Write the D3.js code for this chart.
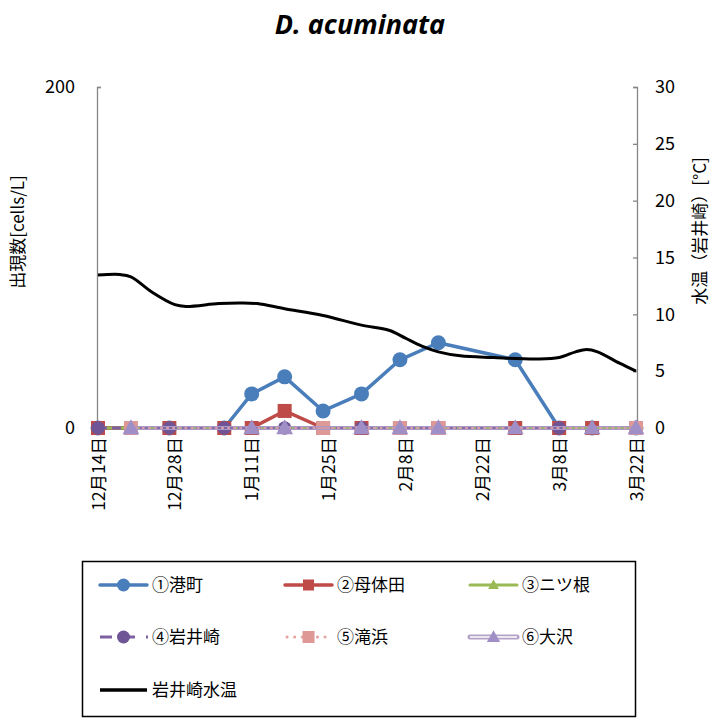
<!DOCTYPE html>
<html><head><meta charset="utf-8">
<script src="https://cdn.jsdelivr.net/npm/d3@7/dist/d3.min.js"></script>
<style>
body{margin:0;background:#fff;}
text{font-family:"Noto Sans CJK JP","Noto Sans",sans-serif;fill:#000;}
</style></head>
<body><svg id="c" width="715" height="724"></svg>
<script>
// ---- data ----
const title = "D. acuminata";
const sampleDates = ["2012-12-14","2012-12-20","2012-12-27","2013-01-06","2013-01-11","2013-01-17","2013-01-24","2013-01-31","2013-02-07","2013-02-14","2013-02-28","2013-03-08","2013-03-14","2013-03-22"];
const seriesNames = ["①港町","②母体田","③ニツ根","④岩井崎","⑤滝浜","⑥大沢"];
const s1 = [0,null,0,0,20,30,10,20,40,50,40,0,0,0];
const s2 = [0,null,0,0,0,10,0,0,0,0,0,0,0,0];
const s3 = [0,null,0,0,0,0,0,0,0,0,0,0,0,0];
const s4 = [0,null,0,0,null,0,null,0,null,null,null,0,null,null];
const s5 = [null,0,null,null,null,null,0,null,0,0,null,null,null,0];
const s6 = [null,0,null,null,0,0,null,0,0,0,0,null,0,0];
const tempName = "岩井崎水温";
const tempDates = ["2012-12-14","2012-12-18","2012-12-20","2012-12-24","2012-12-28","2012-12-30","2013-01-05","2013-01-09","2013-01-12","2013-01-17","2013-01-24","2013-01-31","2013-02-05","2013-02-08","2013-02-11","2013-02-14","2013-02-18","2013-02-24","2013-03-04","2013-03-08","2013-03-11","2013-03-13","2013-03-15","2013-03-19","2013-03-22"];
const tempValues = [13.45,13.5,13.3,11.9,10.85,10.7,10.95,11.0,10.95,10.5,9.9,9.05,8.6,7.9,7.2,6.7,6.35,6.2,6.07,6.2,6.7,6.9,6.7,5.7,5.0];
const xTicks = ["2012-12-14","2012-12-28","2013-01-11","2013-01-25","2013-02-08","2013-02-22","2013-03-08","2013-03-22"];
const leftTicks = [0,200];
const rightTicks = [0,5,10,15,20,25,30];
const leftTitle = "出現数[cells/L]";
const rightTitle = "水温（岩井崎）[°C]";

// ---- setup ----
const parse = d3.timeParse("%Y-%m-%d");
const svg = d3.select("#c");
const L = 97, R = 636, T = 87, B = 428;
const x = d3.scaleTime().domain([parse("2012-12-14"), parse("2013-03-22")]).range([L+1, R]);
const y = d3.scaleLinear().domain([0,200]).range([B,T]);
const y2 = d3.scaleLinear().domain([0,30]).range([B,T]);
const axisCol = "#868686";

// title
svg.append("text").attr("x",360).attr("y",34).attr("text-anchor","middle")
  .style("font-family","'Open Sans',sans-serif").style("font-weight","bold").style("font-style","italic")
  .style("font-size","27px").text(title);

// left axis
const gL = svg.append("g").attr("transform",`translate(${L},0)`)
  .call(d3.axisLeft(y).tickValues(leftTicks).tickSize(-4).tickPadding(22));
gL.select(".domain").attr("stroke",axisCol).attr("stroke-width",1.3);
gL.selectAll(".tick line").attr("stroke",axisCol).attr("stroke-width",1.3);
gL.selectAll("text").style("font-size","18px").style("font-family","'Noto Sans CJK JP',sans-serif");

// right axis
const gR = svg.append("g").attr("transform",`translate(${R+1},0)`)
  .call(d3.axisRight(y2).tickValues(rightTicks).tickSize(-4).tickPadding(18));
gR.select(".domain").attr("stroke",axisCol).attr("stroke-width",1.3);
gR.selectAll(".tick line").attr("stroke",axisCol).attr("stroke-width",1.3);
gR.selectAll("text").style("font-size","18px").style("font-family","'Noto Sans CJK JP',sans-serif");

// bottom axis
const fmt = d => (d.getMonth()+1)+"月"+d.getDate()+"日";
const gB = svg.append("g").attr("transform",`translate(0,${B})`)
  .call(d3.axisBottom(x).tickValues(xTicks.map(parse)).tickFormat(fmt).tickSize(0).tickPadding(0));
gB.select(".domain").attr("stroke",axisCol).attr("stroke-width",1.3);
gB.selectAll("text").style("font-size","17.5px")
  .attr("transform","translate(0,9) rotate(-90)").attr("text-anchor","end")
  .attr("x",0).attr("y",0).attr("dy","0.35em");

// axis titles
svg.append("text").attr("transform","translate(18,232) rotate(-90)").attr("text-anchor","middle")
  .attr("dy","0.35em").style("font-size","17px").text(leftTitle);
svg.append("text").attr("transform","translate(700,231) rotate(-90)").attr("text-anchor","middle")
  .attr("dy","0.35em").style("font-size","17px").text(rightTitle);

// series styles
const styles = [
  {color:"#4A7EBB", width:3.5, dash:null, cap:"round", marker:"circle", size:7.5, mcolor:"#4A7EBB"},
  {color:"#BE4B48", width:3.5, dash:null, cap:"round", marker:"square", size:14, mcolor:"#BE4B48"},
  {color:"#98B954", width:3, dash:null, cap:"round", marker:"triangle", size:9, mcolor:"#98B954"},
  {color:"#7D60A0", width:3, dash:"9,5", cap:"butt", marker:"circle", size:6.8, mcolor:"#6F5496"},
  {color:"#E6A2A0", width:3, dash:"0.1,6", cap:"round", marker:"square", size:14, mcolor:"#DE9896"},
  {color:"#A999C8", width:3, dash:null, cap:"round", marker:"triangle", size:14, mcolor:"#9F8FC6", double:true}
];
const seriesVals = [s1,s2,s3,s4,s5,s6];
const dts = sampleDates.map(parse);

function drawMarker(g, st, cx, cy){
  if(st.marker==="circle"){
    g.append("circle").attr("cx",cx).attr("cy",cy).attr("r",st.size).attr("fill",st.mcolor);
  } else if(st.marker==="square"){
    const s = st.size;
    g.append("rect").attr("x",cx-s/2).attr("y",cy-s/2).attr("width",s).attr("height",s).attr("fill",st.mcolor);
  } else {
    const s = st.size;
    g.append("path").attr("d",`M${cx},${cy-s*0.62}L${cx+s*0.6},${cy+s*0.45}L${cx-s*0.6},${cy+s*0.45}Z`).attr("fill",st.mcolor);
  }
}
function drawLine(g, st, pts, legend){
  const line = d3.line().x(d=>d[0]).y(d=>d[1]);
  if(st.double && !legend){
    // hollow compound line: two thin strokes, centre left open
    [-1.4, 1.4].forEach(off=>{
      g.append("path").attr("d",line(pts.map(p=>[p[0],p[1]+off]))).attr("fill","none")
        .attr("stroke",st.color).attr("stroke-width",1.1);
    });
    return;
  }
  const w = st.double ? 5 : st.width;
  const p = g.append("path").attr("d",line(pts)).attr("fill","none").attr("stroke",st.color)
    .attr("stroke-width", w).attr("stroke-linecap",st.cap).attr("stroke-linejoin","round");
  if(st.dash) p.attr("stroke-dasharray",st.dash);
  if(st.double){
    g.append("path").attr("d",line(pts)).attr("fill","none").attr("stroke","#fff").attr("stroke-width",1.6);
  }
}

const plot = svg.append("g");
seriesVals.forEach((vals,i)=>{
  const st = styles[i];
  const pts = [];
  vals.forEach((v,j)=>{ if(v!==null) pts.push([x(dts[j]), y(v)]); });
  const g = plot.append("g");
  drawLine(g, st, pts, false);
  pts.forEach(p=>drawMarker(g, st, p[0], p[1]));
});

// temperature
const tline = d3.line().x(d=>x(d[0])).y(d=>y2(d[1])).curve(d3.curveCatmullRom.alpha(0.5));
plot.append("path").attr("d", tline(tempDates.map((d,i)=>[parse(d), tempValues[i]])))
  .attr("fill","none").attr("stroke","#000").attr("stroke-width",3);

// legend
const lg = svg.append("g");
lg.append("rect").attr("x",82.5).attr("y",561.5).attr("width",553).attr("height",155)
  .attr("fill","#fff").attr("stroke","#000").attr("stroke-width",1.5);
const colX = [100, 285, 470];
const rowY = [585, 637, 690];
seriesNames.forEach((n,i)=>{
  const cx = colX[i%3], cy = rowY[Math.floor(i/3)];
  const st = styles[i];
  const g = lg.append("g");
  const lstyle = Object.assign({}, st);
  if(i===3) lstyle.dash = "12,11";
  if(i===4) lstyle.dash = "0.1,7.5";
  if(i===5) lstyle.color = "#B3A2C7";
  drawLine(g, lstyle, i===3 ? [[100,cy],[148,cy]] : i===4 ? [[cx+2,cy],[cx+47,cy]] : [[cx,cy],[cx+47,cy]], true);
  const ms = Object.assign({}, st);
  if(i===0) ms.size = 6.5;
  if(i===1) ms.size = 11;
  if(i===2) ms.size = 9;
  if(i===3) ms.size = 6.5;
  if(i===4) ms.size = 12;
  if(i===5) ms.size = 11;
  drawMarker(g, ms, cx+23.5, cy);
  g.append("text").attr("x",cx+52).attr("y",cy).attr("dy","0.35em").style("font-size","17px").text(n);
});
lg.append("line").attr("x1",100).attr("x2",147).attr("y1",rowY[2]).attr("y2",rowY[2]).attr("stroke","#000").attr("stroke-width",3.5);
lg.append("text").attr("x",152).attr("y",rowY[2]).attr("dy","0.35em").style("font-size","17px").text(tempName);
</script></body></html>
